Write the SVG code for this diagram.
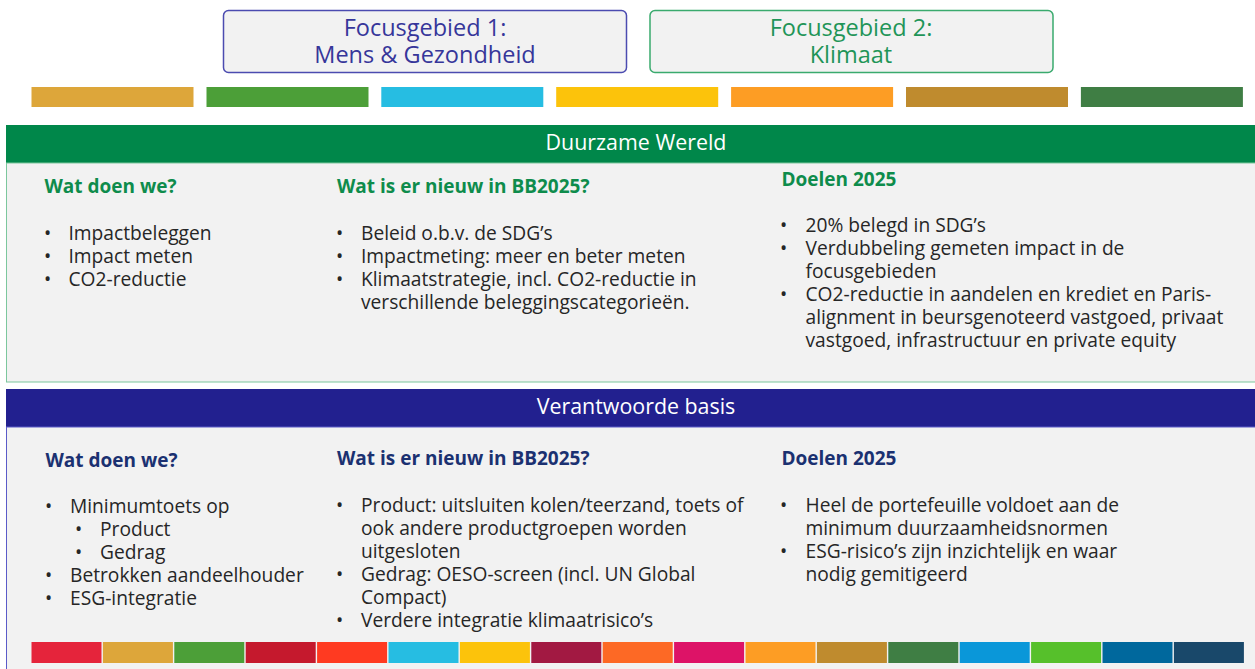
<svg xmlns="http://www.w3.org/2000/svg" width="1255" height="669" viewBox="0 0 1255 669">
<style>
.ft{font-family:"Open Sans","Liberation Sans",sans-serif;font-size:23.5px;text-anchor:middle}
.band{font-family:"Open Sans","Liberation Sans",sans-serif;font-size:21.4px;fill:#ffffff;text-anchor:middle}
.h{font-family:"Open Sans","Liberation Sans",sans-serif;font-size:19px;font-weight:bold}
.hg{fill:#0e8c4c}
.hb{fill:#1b3171}
.b{font-family:"Open Sans","Liberation Sans",sans-serif;font-size:19.2px;fill:#262626}
</style>
<rect width="1255" height="669" fill="#ffffff"/>
<g id="focus1">
<rect x="223.5" y="10.5" width="403" height="62" rx="5" fill="#f2f2f2" stroke="#4b4bb0" stroke-width="1.5"/>
<text class="ft" x="425" y="36" fill="#36369a">Focusgebied 1:</text>
<text class="ft" x="425" y="63" fill="#36369a">Mens &amp; Gezondheid</text>
</g>
<g id="focus2">
<rect x="650" y="10.5" width="403" height="62" rx="5" fill="#f2f2f2" stroke="#3aaa6e" stroke-width="1.5"/>
<text class="ft" x="851" y="36" fill="#1f9558">Focusgebied 2:</text>
<text class="ft" x="851" y="63" fill="#1f9558">Klimaat</text>
</g>
<g id="focus-bars">
<rect x="31.5" y="87" width="162" height="20" fill="#DDA63A"/>
<rect x="206.5" y="87" width="162" height="20" fill="#4C9F38"/>
<rect x="381.3" y="87" width="162" height="20" fill="#26BDE2"/>
<rect x="556.2" y="87" width="162" height="20" fill="#FCC30B"/>
<rect x="731.1" y="87" width="162" height="20" fill="#FD9D24"/>
<rect x="906" y="87" width="162" height="20" fill="#BF8B2E"/>
<rect x="1080.9" y="87" width="162" height="20" fill="#3F7E44"/>
</g>
<g id="duurzame-wereld">
<rect x="6" y="125" width="1249" height="38" fill="#00874A"/>
<text class="band" x="636" y="150">Duurzame Wereld</text>
<rect x="6.5" y="163" width="1250" height="219" fill="#f2f2f2" stroke="#7cc79d" stroke-width="1"/>
<text class="h hg" x="44.5" y="193">Wat doen we?</text>
<text class="b" x="44" y="240">•</text><text class="b" x="68.5" y="240">Impactbeleggen</text>
<text class="b" x="44" y="263">•</text><text class="b" x="68.5" y="263">Impact meten</text>
<text class="b" x="44" y="286">•</text><text class="b" x="68.5" y="286">CO2-reductie</text>
<text class="h hg" x="337" y="193">Wat is er nieuw in BB2025?</text>
<text class="b" x="336" y="240">•</text><text class="b" x="361" y="240">Beleid o.b.v. de SDG’s</text>
<text class="b" x="336" y="263">•</text><text class="b" x="361" y="263">Impactmeting: meer en beter meten</text>
<text class="b" x="336" y="286">•</text><text class="b" x="361" y="286">Klimaatstrategie, incl. CO2-reductie in</text>
<text class="b" x="361" y="309">verschillende beleggingscategorieën.</text>
<text class="h hg" x="781.5" y="186">Doelen 2025</text>
<text class="b" x="780" y="232">•</text><text class="b" x="805.5" y="232">20% belegd in SDG’s</text>
<text class="b" x="780" y="255">•</text><text class="b" x="805.5" y="255">Verdubbeling gemeten impact in de</text>
<text class="b" x="805.5" y="278">focusgebieden</text>
<text class="b" x="780" y="301">•</text><text class="b" x="805.5" y="301">CO2-reductie in aandelen en krediet en Paris-</text>
<text class="b" x="805.5" y="324">alignment in beursgenoteerd vastgoed, privaat</text>
<text class="b" x="805.5" y="347">vastgoed, infrastructuur en private equity</text>
</g>
<g id="verantwoorde-basis">
<rect x="6" y="389" width="1249" height="38" fill="#22208F"/>
<text class="band" x="636" y="414">Verantwoorde basis</text>
<rect x="6.5" y="427" width="1250" height="245" fill="#f2f2f2" stroke="#5a5ac8" stroke-width="1"/>
<text class="h hb" x="45.5" y="467">Wat doen we?</text>
<text class="b" x="45" y="513">•</text><text class="b" x="70" y="513">Minimumtoets op</text>
<text class="b" x="75" y="536">•</text><text class="b" x="100" y="536">Product</text>
<text class="b" x="75" y="559">•</text><text class="b" x="100" y="559">Gedrag</text>
<text class="b" x="45" y="582">•</text><text class="b" x="70" y="582">Betrokken aandeelhouder</text>
<text class="b" x="45" y="605">•</text><text class="b" x="70" y="605">ESG-integratie</text>
<text class="h hb" x="337" y="465">Wat is er nieuw in BB2025?</text>
<text class="b" x="336" y="512">•</text><text class="b" x="361" y="512">Product: uitsluiten kolen/teerzand, toets of</text>
<text class="b" x="361" y="535">ook andere productgroepen worden</text>
<text class="b" x="361" y="558">uitgesloten</text>
<text class="b" x="336" y="581">•</text><text class="b" x="361" y="581">Gedrag: OESO-screen (incl. UN Global</text>
<text class="b" x="361" y="604">Compact)</text>
<text class="b" x="336" y="627">•</text><text class="b" x="361" y="627">Verdere integratie klimaatrisico’s</text>
<text class="h hb" x="781.5" y="465">Doelen 2025</text>
<text class="b" x="780" y="512">•</text><text class="b" x="805.5" y="512">Heel de portefeuille voldoet aan de</text>
<text class="b" x="805.5" y="535">minimum duurzaamheidsnormen</text>
<text class="b" x="780" y="558">•</text><text class="b" x="805.5" y="558">ESG-risico’s zijn inzichtelijk en waar</text>
<text class="b" x="805.5" y="581">nodig gemitigeerd</text>
</g>
<g id="sdg-strip">
<rect x="31.5" y="642" width="70" height="21" fill="#E5243B"/>
<rect x="102.9" y="642" width="70" height="21" fill="#DDA63A"/>
<rect x="174.3" y="642" width="70" height="21" fill="#4C9F38"/>
<rect x="245.7" y="642" width="70" height="21" fill="#C5192D"/>
<rect x="317.1" y="642" width="70" height="21" fill="#FF3A21"/>
<rect x="388.5" y="642" width="70" height="21" fill="#26BDE2"/>
<rect x="459.9" y="642" width="70" height="21" fill="#FCC30B"/>
<rect x="531.3" y="642" width="70" height="21" fill="#A21942"/>
<rect x="602.7" y="642" width="70" height="21" fill="#FD6925"/>
<rect x="674.1" y="642" width="70" height="21" fill="#DD1367"/>
<rect x="745.5" y="642" width="70" height="21" fill="#FD9D24"/>
<rect x="816.9" y="642" width="70" height="21" fill="#BF8B2E"/>
<rect x="888.3" y="642" width="70" height="21" fill="#3F7E44"/>
<rect x="959.7" y="642" width="70" height="21" fill="#0A97D9"/>
<rect x="1031.1" y="642" width="70" height="21" fill="#56C02B"/>
<rect x="1102.5" y="642" width="70" height="21" fill="#00689D"/>
<rect x="1173.9" y="642" width="70" height="21" fill="#19486A"/>
</g>
</svg>
